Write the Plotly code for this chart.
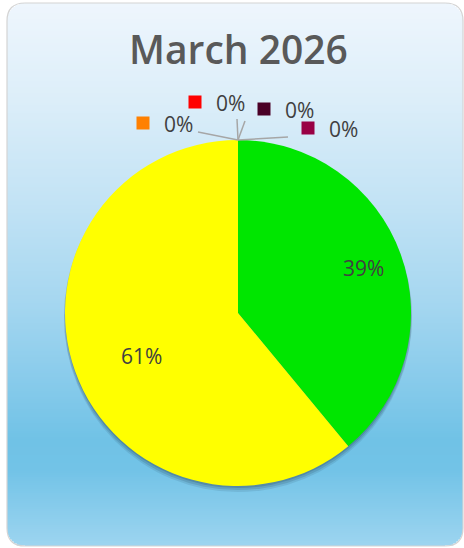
import math
import plotly.graph_objects as go

W, H = 464, 548

# ---- data ----
categories = ["Green", "Yellow", "Orange", "Red", "Maroon", "Crimson"]
values = [39, 61, 0, 0, 0, 0]
colors = ["#00E600", "#FFFF00", "#FF8000", "#FF0000", "#4A0026", "#990044"]
title_text = "March 2026"

total = sum(values)

# ---- layout geometry (pixels) ----
cx, cy, R = 238, 313, 173
card = dict(x0=7, y0=3, x1=463, y1=546, r=18)

def dom(cx_, cy_, r_):
    return dict(x=[(cx_ - r_) / W, (cx_ + r_) / W],
                y=[1 - (cy_ + r_) / H, 1 - (cy_ - r_) / H])

# gradient stops (y pixel, rgb)
stops = [(0, (0xEF, 0xF6, 0xFD)), (100, (0xDC, 0xEE, 0xF9)), (200, (0xC3, 0xE3, 0xF5)),
         (300, (0xA6, 0xD7, 0xF0)), (380, (0x88, 0xCB, 0xEB)), (440, (0x70, 0xC2, 0xE6)),
         (470, (0x72, 0xC3, 0xE7)), (548, (0x9E, 0xD5, 0xF0))]

def grad(y):
    for (y0, c0), (y1, c1) in zip(stops, stops[1:]):
        if y0 <= y <= y1:
            t = (y - y0) / (y1 - y0)
            return "rgb(%d,%d,%d)" % tuple(round(a + (b - a) * t) for a, b in zip(c0, c1))
    return "rgb(%d,%d,%d)" % stops[-1][1]

shapes = []
step = 2
y = card["y0"]
r = card["r"]
while y < card["y1"]:
    ym = y + step / 2
    dx = 0
    if ym < card["y0"] + r:
        d = card["y0"] + r - ym
        dx = r - math.sqrt(max(r * r - d * d, 0))
    elif ym > card["y1"] - r:
        d = ym - (card["y1"] - r)
        dx = r - math.sqrt(max(r * r - d * d, 0))
    shapes.append(dict(type="rect", xref="x", yref="y", layer="below",
                       x0=card["x0"] + dx, x1=card["x1"] - dx, y0=y, y1=min(y + step + 0.5, card["y1"]),
                       fillcolor=grad(ym), line=dict(width=0)))
    y += step

x0, y0, x1, y1 = card["x0"], card["y0"], card["x1"], card["y1"]
border = (f"M{x0 + r},{y0} L{x1 - r},{y0} Q{x1},{y0} {x1},{y0 + r} L{x1},{y1 - r} "
          f"Q{x1},{y1} {x1 - r},{y1} L{x0 + r},{y1} Q{x0},{y1} {x0},{y1 - r} "
          f"L{x0},{y0 + r} Q{x0},{y0} {x0 + r},{y0} Z")
shapes.append(dict(type="path", xref="x", yref="y", layer="below", path=border,
                   line=dict(color="#D4D4D4", width=1.2)))

fig = go.Figure()

# soft shadow under the pie
for off, dr, a in [(5, 1, 0.10), (3, 1, 0.14), (2, 0, 0.18)]:
    fig.add_trace(go.Pie(values=[1], marker=dict(colors=[f"rgba(20,40,60,{a})"], line=dict(width=0)),
                         domain=dom(cx, cy + off, R + dr), textinfo="none", hoverinfo="skip",
                         showlegend=False, sort=False))

fig.add_trace(go.Pie(
    labels=categories, values=values, textinfo="none",
    marker=dict(colors=colors, line=dict(width=0)),
    sort=False, direction="clockwise", rotation=0,
    domain=dom(cx, cy, R), showlegend=False, hoverinfo="label+percent",
))

annotations = []
label_font = dict(family="Open Sans", size=21, color="#404040")

# percent labels for non-zero slices, placed along each slice's mid-angle
radial_frac = {0: 0.77, 1: 0.61}
cum = 0
for i, v in enumerate(values):
    if v > 0:
        mid = (cum + v / 2) / total * 2 * math.pi - (0.07 if i == 1 else 0)
        f = radial_frac.get(i, 0.7)
        annotations.append(dict(x=cx + f * R * math.sin(mid), y=cy - f * R * math.cos(mid),
                                xref="x", yref="y", showarrow=False,
                                text=f"{v / total:.0%}", font=label_font))
    cum += v

# labels for zero-value slices with leader lines to the pie top
top = (cx, cy - R)
zero_idx = [i for i, v in enumerate(values) if v == 0]
label_pos = [(178, 124, 198, 132), (230, 103, 237, 119), (299, 110, 245, 121), (343, 129, 288, 137)]
sq_x, sq_y, sq_c = [], [], []
for i, (lx, ly, ex, ey) in zip(zero_idx, label_pos):
    annotations.append(dict(x=lx, y=ly, xref="x", yref="y", showarrow=False,
                            text=f"{values[i] / total:.0%}", font=label_font))
    shapes.append(dict(type="line", xref="x", yref="y", x0=ex, y0=ey, x1=top[0], y1=top[1],
                       line=dict(color="#A6A6A6", width=1.5)))
    sq_x.append(lx - 35)
    sq_y.append(ly - 1)
    sq_c.append(colors[i])

fig.add_trace(go.Scatter(x=sq_x, y=sq_y, mode="markers", hoverinfo="skip", showlegend=False,
                         marker=dict(symbol="square", size=13, color=sq_c, line=dict(width=0))))

annotations.append(dict(x=238, y=48, xref="x", yref="y", showarrow=False, text=title_text,
                        font=dict(family="Open Sans", size=39, color="#595959", weight=600)))

fig.update_layout(
    width=W, height=H, margin=dict(l=0, r=0, t=0, b=0),
    paper_bgcolor="white", plot_bgcolor="rgba(0,0,0,0)",
    xaxis=dict(range=[0, W], visible=False, fixedrange=True),
    yaxis=dict(range=[H, 0], visible=False, fixedrange=True),
    shapes=shapes, annotations=annotations, showlegend=False,
)

fig.write_html("out.html", config={"displayModeBar": False},
               post_script="document.body.style.margin='0';document.body.style.overflow='hidden';")
